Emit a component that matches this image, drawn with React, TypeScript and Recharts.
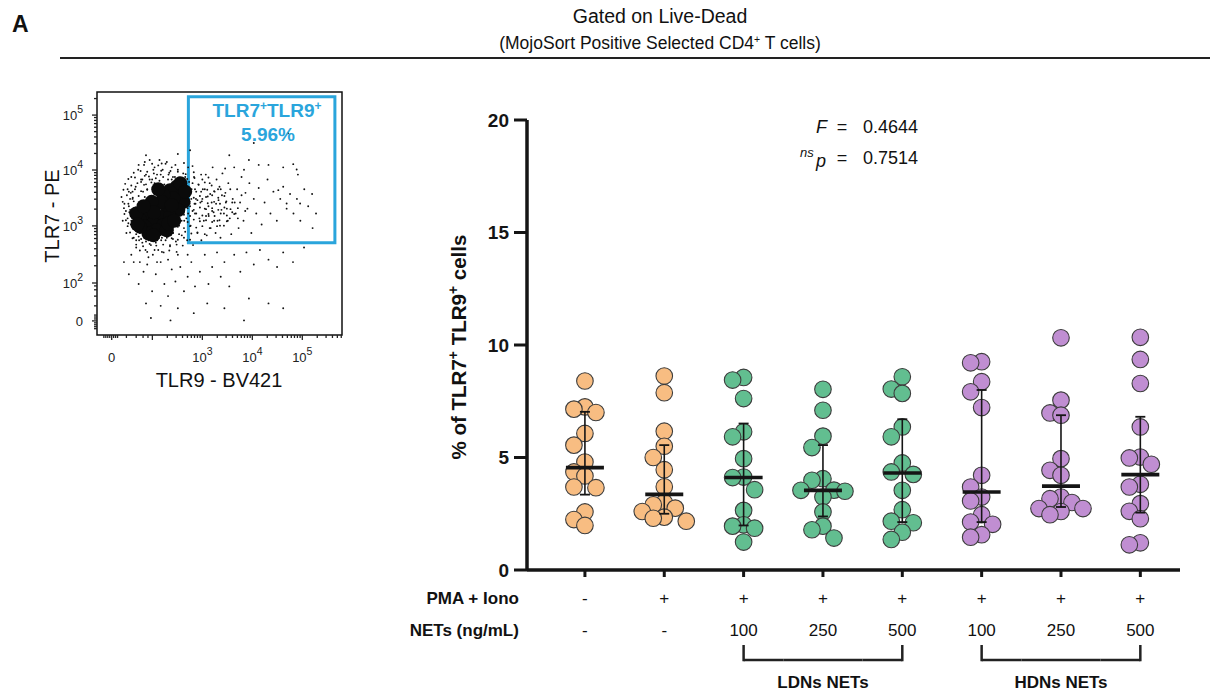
import React from 'react';
import { ComposedChart, ScatterChart, Scatter, XAxis, YAxis, ReferenceArea } from 'recharts';

const FONT = '"Liberation Sans", Arial, Helvetica, sans-serif';

// ---------------- Dot plot (% of TLR7+ TLR9+ cells) ----------------
const groupIds = [0, 1, 2, 3, 4, 5, 6, 7];
const pmaIonoRow = ['-', '+', '+', '+', '+', '+', '+', '+'];
const netsRow = ['-', '-', '100', '250', '500', '100', '250', '500'];
const brackets = [
  { label: 'LDNs NETs', from: 2, to: 4 },
  { label: 'HDNs NETs', from: 5, to: 7 },
];
const yTicks = [0, 5, 10, 15, 20];

const ctrlNoStim = [8.4, 7.25, 7.15, 7.0, 6.07, 5.55, 4.8, 4.36, 4.18, 3.69, 3.66, 2.58, 2.24, 1.98];
const ctrlPmaIono = [8.62, 7.88, 6.17, 5.5, 5.0, 4.46, 3.7, 3.0, 2.9, 2.75, 2.6, 2.35, 2.3, 2.17];
const ldn100 = [8.56, 8.44, 7.62, 6.14, 5.92, 4.95, 4.13, 4.11, 3.57, 2.65, 2.01, 1.95, 1.86, 1.24];
const ldn250 = [8.03, 7.1, 5.95, 5.44, 4.06, 3.99, 3.55, 3.54, 3.5, 3.24, 2.58, 1.95, 1.79, 1.42];
const ldn500 = [8.59, 8.04, 7.85, 6.36, 5.92, 4.76, 4.36, 4.25, 3.54, 2.68, 2.17, 2.1, 1.68, 1.36];
const hdn100 = [9.26, 9.21, 8.37, 7.92, 7.22, 4.21, 3.69, 3.24, 3.07, 2.46, 2.13, 2.03, 1.57, 1.46];
const hdn250 = [10.32, 7.55, 6.98, 6.88, 4.95, 4.43, 4.21, 3.24, 3.17, 3.0, 2.73, 2.73, 2.6, 2.46];
const hdn500 = [10.34, 9.36, 8.29, 6.36, 5.02, 4.98, 4.7, 3.81, 3.69, 2.95, 2.61, 2.28, 1.21, 1.12];

const medians = [4.55, 3.36, 4.11, 3.54, 4.31, 3.47, 3.73, 4.24];
const quartile1 = [3.35, 2.5, 1.98, 2.38, 2.13, 2.13, 2.8, 2.55];
const quartile3 = [7.03, 5.55, 6.51, 5.55, 6.7, 8.0, 6.88, 6.81];

const fStat = '0.4644';
const pValue = '0.7514';

const groupValues = [ctrlNoStim, ctrlPmaIono, ldn100, ldn250, ldn500, hdn100, hdn250, hdn500];
const ORANGE = '#F8BD82';
const GREEN = '#62BE90';
const PURPLE = '#C08ED2';
const groupFill = [ORANGE, ORANGE, GREEN, GREEN, GREEN, PURPLE, PURPLE, PURPLE];

// ---------------- Flow cytometry panel (channel units 0-1000) ----------------
const flowXMajors = [60, 226, 430, 634, 838];
const flowXMajorLabels = [{ b: '0', e: '' }, { b: '', e: '' }, { b: '10', e: '3' }, { b: '10', e: '4' }, { b: '10', e: '5' }];
const flowYMajors = [58, 214, 449, 679, 905];
const flowYMajorLabels = [{ b: '0', e: '' }, { b: '10', e: '2' }, { b: '10', e: '3' }, { b: '10', e: '4' }, { b: '10', e: '5' }];
const flowXZeroTicks = [28, 36, 44, 52, 68, 76, 84, 120, 160, 188, 208];
const flowYZeroTicks = [26, 34, 42, 50, 66, 74, 82, 120, 160, 186, 202];

const flowCoreEvents = [
  [325, 610], [346, 589], [298, 596], [353, 548], [312, 562], [271, 576], [332, 514],
  [244, 541], [285, 527], [217, 514], [257, 486], [298, 486], [203, 479], [230, 459],
  [271, 452], [189, 500], [176, 473], [196, 445], [244, 431], [285, 431], [210, 418],
  [176, 445], [264, 548], [223, 548], [305, 534], [291, 459], [340, 625], [232, 505],
  [160, 500], [165, 455], [190, 530], [250, 600], [360, 590], [315, 470], [230, 410],
];

const flowSparseEvents = [
  [105, 470], [112, 540], [120, 420], [125, 600], [132, 505], [138, 455], [140, 650], [145, 560], [150, 400], [152, 520],
  [158, 610], [160, 360], [165, 470], [168, 680], [172, 545], [175, 420], [180, 640], [185, 380], [188, 590], [192, 700],
  [198, 350], [200, 660], [205, 600], [210, 390], [215, 720], [220, 370], [225, 640], [228, 330], [235, 690], [240, 380],
  [245, 660], [250, 350], [255, 720], [262, 390], [268, 680], [272, 340], [280, 705], [285, 400], [292, 660], [298, 370],
  [305, 690], [310, 420], [318, 650], [322, 385], [330, 680], [335, 450], [340, 640], [346, 410], [352, 665], [356, 470],
  [362, 625], [368, 390], [372, 690], [378, 540], [382, 450], [386, 600], [392, 370], [396, 650], [400, 500], [404, 560],
  [410, 420], [414, 620], [418, 480], [422, 545], [426, 390], [140, 330], [175, 300], [205, 290], [245, 300], [290, 310],
  [330, 330], [370, 330], [330, 745], [200, 740], [380, 760],
  [432, 600], [436, 470], [440, 520], [444, 660], [448, 410], [452, 570], [456, 490], [460, 625], [464, 440], [468, 545],
  [472, 690], [476, 505], [480, 590], [484, 420], [488, 640], [492, 470], [496, 555], [500, 610], [504, 400], [508, 515],
  [512, 665], [518, 450], [524, 585], [530, 520], [536, 625], [542, 480], [548, 415], [554, 560], [560, 690], [566, 500],
  [572, 600], [578, 440], [584, 545], [590, 650], [598, 470], [606, 585], [614, 520], [622, 625], [630, 420], [640, 560],
  [650, 500], [660, 605], [672, 455], [684, 545], [696, 640], [708, 500], [720, 590], [734, 470], [748, 560], [760, 610],
  [774, 520], [788, 580], [802, 500], [816, 560], [830, 470], [846, 600], [862, 530], [878, 580], [894, 500], [700, 700],
  [760, 690], [620, 720], [540, 740], [820, 660], [880, 440], [740, 596], [774, 541], [829, 541], [801, 703],
  [815, 681], [523, 685], [264, 706], [600, 680], [660, 700], [640, 790], [780, 830],
  [110, 300], [130, 250], [150, 300], [170, 210], [190, 260], [210, 320], [225, 180], [240, 250], [260, 300], [275, 210],
  [290, 160], [305, 270], [320, 220], [340, 280], [355, 180], [370, 240], [385, 300], [400, 200], [420, 260], [440, 330],
  [455, 210], [470, 280], [490, 340], [505, 240], [520, 300], [540, 200], [560, 330], [585, 260], [610, 340], [640, 290],
  [665, 350], [700, 310], [735, 280], [760, 340], [800, 300], [845, 360], [200, 130], [260, 120], [330, 110], [395, 90],
  [300, 60], [220, 70], [450, 130], [520, 110], [620, 150], [700, 130], [760, 110], [600, 60],
  [170, 700], [195, 712], [225, 705], [250, 698], [285, 712], [320, 700], [355, 708], [390, 695],
  [150, 668], [178, 675], [205, 672], [232, 665], [262, 676], [295, 668], [330, 672], [362, 662], [395, 670], [425, 660],
  [128, 642], [155, 648], [185, 640], [212, 652], [240, 645], [270, 650], [305, 640], [335, 648], [368, 642], [398, 646], [430, 640], [455, 648],
  [115, 622], [140, 615], [165, 625], [192, 618], [222, 628], [250, 620], [365, 615], [390, 625], [415, 618], [440, 628], [468, 615],
  [108, 598], [130, 590], [155, 600], [180, 592], [205, 598], [375, 592], [400, 600], [425, 590], [450, 598], [478, 592], [505, 600],
  [100, 568], [122, 575], [146, 565], [170, 572], [195, 568], [372, 575], [395, 565], [420, 572], [445, 568], [470, 575], [495, 565], [520, 572],
  [105, 548], [128, 540], [150, 550], [172, 542], [378, 548], [402, 540], [428, 550], [452, 542], [478, 548], [502, 540], [528, 550], [552, 545],
  [110, 522], [135, 515], [158, 525], [370, 522], [395, 515], [420, 525], [445, 518], [470, 522], [495, 515], [520, 525], [545, 518], [575, 522],
  [112, 498], [138, 490], [160, 500], [355, 495], [380, 490], [405, 500], [430, 492], [455, 498], [480, 490], [505, 500], [530, 492], [560, 498],
  [118, 472], [142, 465], [345, 470], [370, 465], [395, 475], [420, 468], [445, 472], [470, 465], [500, 472], [530, 468],
  [125, 448], [150, 440], [330, 445], [355, 440], [380, 448], [405, 442], [430, 448], [460, 440], [490, 448],
  [135, 422], [160, 415], [185, 425], [310, 420], [335, 415], [360, 425], [385, 418], [410, 422], [440, 415],
  [145, 398], [172, 390], [198, 400], [225, 392], [252, 398], [280, 390], [305, 398], [330, 392], [355, 400], [380, 392],
  [160, 372], [188, 365], [215, 375], [242, 368], [270, 372], [298, 365], [325, 372], [350, 368],
  [175, 348], [205, 342], [235, 350], [265, 342], [295, 348], [325, 342],
  [125, 480], [130, 530], [135, 560], [140, 470], [142, 510], [145, 590], [118, 510], [128, 460], [138, 585],
  [365, 480], [372, 500], [380, 530], [385, 560], [390, 510], [398, 540], [405, 590], [410, 555], [368, 610], [376, 630], [360, 650], [350, 640],
  [160, 390], [180, 395], [200, 385], [220, 395], [245, 390], [265, 400], [290, 405], [310, 395], [170, 405], [235, 405], [300, 410],
  [180, 630], [200, 620], [215, 640], [235, 625], [255, 635], [275, 620], [290, 640], [310, 650], [195, 655], [260, 660], [230, 680], [300, 675],
  [430, 560], [440, 600], [445, 490], [455, 530], [462, 580], [470, 510], [478, 470], [486, 540], [494, 600], [502, 450],
  [510, 575], [518, 500], [526, 545], [534, 470], [544, 600], [552, 505], [562, 545], [575, 480], [590, 575], [605, 510],
];

const gate = { x1: 373, x2: 971, y1: 380, y2: 980 };
const gateName = 'TLR7';
const gateName2 = 'TLR9';
const gatePercent = '5.96%';

// ---------------- geometry / styles ----------------
const PLOT_TOP = 120;
const PLOT_BOTTOM = 570;
const MAIN_LEFT = 400;
const MAIN_W = 810;
const Y_AXIS_W = 127;
const MAIN_RIGHT_MARGIN = 30;
const X_DOMAIN: [number, number] = [-0.73, 7.5];
const STEP = (MAIN_W - Y_AXIS_W - MAIN_RIGHT_MARGIN) / (X_DOMAIN[1] - X_DOMAIN[0]);
const LANE_PX = 11;
const MIN_GAP = 0.6;
const DOT_R = 8.3;
const INK = '#151515';

function swarmLanes(values: number[]): number[] {
  const order = values.map((_, i) => i).sort((a, b) => values[b] - values[a]);
  const lanes = new Array(values.length).fill(0);
  const placed: { v: number; lane: number }[] = [];
  for (const i of order) {
    const v = values[i];
    for (const lane of [0, -1, 1, -2, 2, -3, 3]) {
      if (placed.every((p) => p.lane !== lane || Math.abs(p.v - v) >= MIN_GAP)) {
        lanes[i] = lane;
        placed.push({ v, lane });
        break;
      }
    }
  }
  return lanes;
}

const dotSeries = groupValues.map((vals, g) => {
  const lanes = swarmLanes(vals);
  return vals.map((v, i) => ({ x: g, y: v, lane: lanes[i] }));
});

const medianData = medians.map((m, g) => ({ x: g, y: m }));
const iqrSeries = groupIds.map((g) => [
  { x: g, y: quartile1[g] },
  { x: g, y: quartile3[g] },
]);

const makeDot = (fill: string) => (p: any) => (
  <circle cx={p.cx + (p.payload?.lane ?? 0) * LANE_PX} cy={p.cy} r={DOT_R} fill={fill} stroke="#3c3c3c" strokeWidth={1.1} />
);

const MedianShape = (p: any) => (
  <line x1={p.cx - 19} x2={p.cx + 19} y1={p.cy} y2={p.cy} stroke={INK} strokeWidth={3.6} />
);

const CapShape = (p: any) => (
  <line x1={p.cx - 5} x2={p.cx + 5} y1={p.cy} y2={p.cy} stroke={INK} strokeWidth={1.8} />
);

const ROW1_Y = 604;
const ROW2_Y = 636;
const BR_TOP = 645;
const BR_Y = 660;
const BR_LABEL_Y = 688;

function XRowsTick(props: any) {
  const { x } = props;
  const g = props.payload.value as number;
  const items: React.ReactNode[] = [];
  items.push(
    <text key="r1" x={x} y={ROW1_Y} textAnchor="middle" fontSize={17} fontFamily={FONT} fill="#111">{pmaIonoRow[g]}</text>,
    <text key="r2" x={x} y={ROW2_Y} textAnchor="middle" fontSize={17} fontFamily={FONT} fill="#111">{netsRow[g]}</text>
  );
  if (g === 0) {
    items.push(
      <text key="l1" x={x - 66} y={ROW1_Y} textAnchor="end" fontSize={17} fontWeight="bold" fontFamily={FONT} fill="#111">PMA + Iono</text>,
      <text key="l2" x={x - 66} y={ROW2_Y} textAnchor="end" fontSize={17} fontWeight="bold" fontFamily={FONT} fill="#111">NETs (ng/mL)</text>
    );
  }
  brackets.forEach((b, bi) => {
    if (g < b.from || g > b.to) return;
    const xa = g === b.from ? x : x - STEP / 2;
    const xb = g === b.to ? x : x + STEP / 2;
    items.push(<line key={`h${bi}`} x1={xa} x2={xb} y1={BR_Y} y2={BR_Y} stroke="#222" strokeWidth={2.5} />);
    if (g === b.from || g === b.to) {
      items.push(<line key={`v${bi}`} x1={x} x2={x} y1={BR_TOP} y2={BR_Y + 1.25} stroke="#222" strokeWidth={2.5} />);
    }
    if (g === (b.from + b.to) / 2) {
      items.push(
        <text key={`t${bi}`} x={x} y={BR_LABEL_Y} textAnchor="middle" fontSize={17} fontWeight="bold" fontFamily={FONT} fill="#111">{b.label}</text>
      );
    }
  });
  return <g>{items}</g>;
}

function minorTicks(majors: number[]): number[] {
  const out: number[] = [];
  for (let i = 1; i < majors.length; i++) {
    const a = majors[i];
    const d = i + 1 < majors.length ? majors[i + 1] - a : majors[i] - majors[i - 1];
    for (let k = 2; k <= 9; k++) {
      const t = a + Math.log10(k) * d;
      if (t < 1000) out.push(Math.round(t));
    }
  }
  return out;
}

const flowXTicks = [...flowXZeroTicks, ...flowXMajors, ...minorTicks(flowXMajors)].sort((a, b) => a - b);
const flowYTicks = [...flowYZeroTicks, ...flowYMajors, ...minorTicks(flowYMajors)].sort((a, b) => a - b);

function FlowXTick(props: any) {
  const { x, y } = props;
  const v = props.payload.value;
  const mi = flowXMajors.indexOf(v);
  const len = mi >= 0 ? 5 : 3;
  const lab = mi >= 0 ? flowXMajorLabels[mi] : null;
  return (
    <g>
      <line x1={x} x2={x} y1={y} y2={y + len} stroke="#222" strokeWidth={1.3} />
      {lab && lab.b && (
        <text x={x} y={y + 27} textAnchor="middle" fontSize={13} fontFamily={FONT} fill="#222">
          {lab.b}
          {lab.e && <tspan dy={-7} fontSize={10.5}>{lab.e}</tspan>}
        </text>
      )}
    </g>
  );
}

function FlowYTick(props: any) {
  const { x, y } = props;
  const v = props.payload.value;
  const mi = flowYMajors.indexOf(v);
  const len = mi >= 0 ? 5 : 3;
  const lab = mi >= 0 ? flowYMajorLabels[mi] : null;
  return (
    <g>
      <line x1={x} x2={x - len} y1={y} y2={y} stroke="#222" strokeWidth={1.3} />
      {lab && (
        <text x={x - 14} y={y + 5} textAnchor="end" fontSize={13} fontFamily={FONT} fill="#222">
          {lab.b}
          {lab.e && <tspan dy={-7} fontSize={10.5}>{lab.e}</tspan>}
        </text>
      )}
    </g>
  );
}

const smallDot = (p: any) => <circle cx={p.cx} cy={p.cy} r={0.95} fill="#111" />;
const coreDot = (p: any) => <circle cx={p.cx} cy={p.cy} r={7} fill="#0a0a0a" />;

const flowCoreData = flowCoreEvents.map(([x, y]) => ({ x, y }));
const flowSparseData = flowSparseEvents.map(([x, y]) => ({ x, y }));

const GATE_BLUE = '#2AA5DC';

export default function App() {
  return (
    <div style={{ position: 'absolute', left: 0, top: 0, width: 1210, height: 691, background: '#fff', fontFamily: FONT }}>
      {/* Flow cytometry panel */}
      <div style={{ position: 'absolute', left: 0, top: 0 }}>
        <ScatterChart width={360} height={400} margin={{ top: 92, right: 18, left: 0, bottom: 0 }}>
          <XAxis type="number" dataKey="x" domain={[0, 1000]} ticks={flowXTicks} interval={0} axisLine={false}
            tickLine={false} tickSize={0} tickMargin={0} height={65} tick={(p: any) => <FlowXTick {...p} />} allowDataOverflow />
          <YAxis type="number" dataKey="y" domain={[0, 1000]} ticks={flowYTicks} interval={0} axisLine={false}
            tickLine={false} tickSize={0} tickMargin={0} width={97} tick={(p: any) => <FlowYTick {...p} />} allowDataOverflow />
          <Scatter data={flowSparseData} shape={smallDot} isAnimationActive={false} />
          <Scatter data={flowCoreData} shape={coreDot} isAnimationActive={false} />
          <ReferenceArea x1={0} x2={1000} y1={0} y2={1000} fill="none" fillOpacity={0} stroke="#111" strokeWidth={1.5} ifOverflow="visible" />
          <ReferenceArea x1={gate.x1} x2={gate.x2} y1={gate.y1} y2={gate.y2} fill="none" fillOpacity={0} stroke={GATE_BLUE} strokeWidth={3} ifOverflow="visible" />
        </ScatterChart>
      </div>

      {/* Dot plot */}
      <div style={{ position: 'absolute', left: MAIN_LEFT, top: 0 }}>
        <ComposedChart width={MAIN_W} height={691} margin={{ top: PLOT_TOP, right: MAIN_RIGHT_MARGIN, left: 0, bottom: 0 }}>
          <XAxis type="number" dataKey="x" domain={X_DOMAIN} ticks={groupIds} interval={0} allowDataOverflow
            axisLine={{ stroke: INK, strokeWidth: 3.5 }} tickLine={{ stroke: INK, strokeWidth: 3 }} tickSize={7}
            height={691 - PLOT_BOTTOM} tick={(p: any) => <XRowsTick {...p} />} />
          <YAxis type="number" dataKey="y" domain={[0, 20]} ticks={yTicks} interval={0} width={Y_AXIS_W}
            axisLine={{ stroke: INK, strokeWidth: 3.5 }} tickLine={{ stroke: INK, strokeWidth: 3 }} tickSize={13} tickMargin={5}
            tick={{ fill: INK, fontSize: 19, fontWeight: 'bold', fontFamily: FONT }} />
          {dotSeries.map((d, g) => (
            <Scatter key={`d${g}`} data={d} shape={makeDot(groupFill[g])} isAnimationActive={false} />
          ))}
          {iqrSeries.map((d, g) => (
            <Scatter key={`q${g}`} data={d} line={{ stroke: INK, strokeWidth: 1.6 }} shape={CapShape} isAnimationActive={false} />
          ))}
          <Scatter data={medianData} shape={MedianShape} isAnimationActive={false} />
        </ComposedChart>
      </div>

      {/* Text overlay */}
      <svg width={1210} height={691} style={{ position: 'absolute', left: 0, top: 0, pointerEvents: 'none' }}>
        <text x={12} y={32} fontSize={23} fontWeight="bold" fontFamily={FONT} fill="#111">A</text>
        <text x={660} y={23} textAnchor="middle" fontSize={19.5} fontFamily={FONT} fill="#111">Gated on Live-Dead</text>
        <text x={660} y={49} textAnchor="middle" fontSize={17.5} fontFamily={FONT} fill="#111">
          (MojoSort Positive Selected CD4<tspan dy={-6} fontSize={10.5}>+</tspan><tspan dy={6}> T cells)</tspan>
        </text>
        <line x1={60} x2={1210} y1={58} y2={58} stroke="#222" strokeWidth={1.8} />

        {/* flow axis titles */}
        <text x={59} y={216} transform="rotate(-90 59 216)" textAnchor="middle" fontSize={20} fontFamily={FONT} fill="#111">TLR7 - PE</text>
        <text x={219} y={387} textAnchor="middle" fontSize={20} fontFamily={FONT} fill="#111">TLR9 - BV421</text>
        {/* gate labels */}
        <text x={267} y={117} textAnchor="middle" fontSize={19} fontWeight="bold" fontFamily={FONT} fill={GATE_BLUE}>
          {gateName}<tspan dy={-7} fontSize={12}>+</tspan><tspan dy={7}>{gateName2}</tspan><tspan dy={-7} fontSize={12}>+</tspan>
        </text>
        <text x={268} y={141} textAnchor="middle" fontSize={19} fontWeight="bold" fontFamily={FONT} fill={GATE_BLUE}>{gatePercent}</text>

        {/* dot plot y title */}
        <text x={466} y={347} transform="rotate(-90 466 347)" textAnchor="middle" fontSize={20.5} fontWeight="bold" fontFamily={FONT} fill="#111">
          % of TLR7<tspan dy={-8} fontSize={14}>+</tspan><tspan dy={8}> TLR9</tspan><tspan dy={-8} fontSize={14}>+</tspan><tspan dy={8}> cells</tspan>
        </text>

        {/* statistics */}
        <text x={816} y={133} fontSize={18} fontStyle="italic" fontFamily={FONT} fill="#111">F</text>
        <text x={842} y={133} textAnchor="middle" fontSize={18} fontFamily={FONT} fill="#111">=</text>
        <text x={918} y={133} textAnchor="end" fontSize={18} fontFamily={FONT} fill="#111">{fStat}</text>
        <text x={800} y={157} fontSize={13} fontStyle="italic" fontFamily={FONT} fill="#111">ns</text>
        <text x={816} y={167} fontSize={18} fontStyle="italic" fontFamily={FONT} fill="#111">p</text>
        <text x={842} y={164} textAnchor="middle" fontSize={18} fontFamily={FONT} fill="#111">=</text>
        <text x={918} y={164} textAnchor="end" fontSize={18} fontFamily={FONT} fill="#111">{pValue}</text>
      </svg>
    </div>
  );
}
